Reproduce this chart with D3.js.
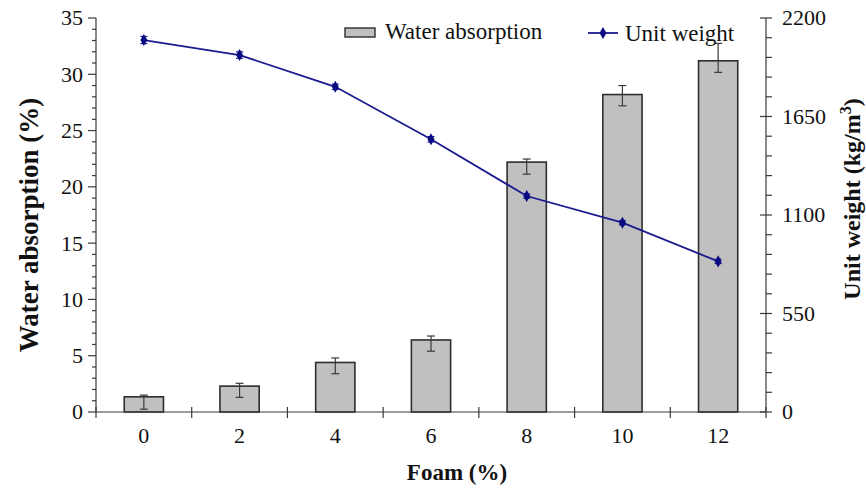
<!DOCTYPE html>
<html>
<head>
<meta charset="utf-8">
<script src="https://cdn.jsdelivr.net/npm/d3@7"></script>
<style>
  html, body { margin: 0; padding: 0; background: #fff; }
  svg { display: block; font-family: "Liberation Serif", "Times New Roman", serif; }
</style>
</head>
<body>
<svg id="chart" width="866" height="488"></svg>
<script>
// Foam content categories (%)
const foam = ["0", "2", "4", "6", "8", "10", "12"];
// Water absorption (%) with lower / upper error extents
const waterAbs = [1.35, 2.3, 4.4, 6.4, 22.2, 28.2, 31.2];
const waterErrUp = [0.15, 0.25, 0.4, 0.35, 0.27, 0.8, 1.55];
const waterErrDown = [1.1, 1.0, 1.0, 1.0, 1.07, 1.0, 1.03];
// Unit weight (kg/m3) with error extent
const unitWeight = [2077, 1993, 1816, 1523, 1206, 1057, 841];
const unitErr = [20, 18, 15, 15, 12, 12, 12];
// Axis tick values
const leftTicks = [0, 5, 10, 15, 20, 25, 30, 35];
const rightTicks = [0, 550, 1100, 1650, 2200];

const svg = d3.select("#chart");
const m = { left: 96, right: 766, top: 18, bottom: 412 };
const axisColor = "#3a3a3a";
const lineColor = "#1b1b8f";

const x = d3.scaleBand().domain(foam).range([m.left, m.right]).paddingInner(0).paddingOuter(0);
const yL = d3.scaleLinear().domain([0, 35]).range([m.bottom, m.top]);
const yR = d3.scaleLinear().domain([0, 2200]).range([m.bottom, m.top]);

const barW = x.bandwidth() * 0.41;

// Bars
svg.append("g").selectAll("rect").data(foam).join("rect")
  .attr("x", d => x(d) + x.bandwidth() / 2 - barW / 2)
  .attr("y", (d, i) => yL(waterAbs[i]))
  .attr("width", barW)
  .attr("height", (d, i) => yL(0) - yL(waterAbs[i]))
  .attr("fill", "#c0c0c0")
  .attr("stroke", "#2e2e2e")
  .attr("stroke-width", 1.6);

// Bar error bars
const eb = svg.append("g").attr("stroke", "#3a3a3a").attr("stroke-width", 1.2);
foam.forEach((d, i) => {
  const cx = x(d) + x.bandwidth() / 2;
  const y1 = yL(waterAbs[i] + waterErrUp[i]);
  const y2 = yL(waterAbs[i] - waterErrDown[i]);
  eb.append("line").attr("x1", cx).attr("x2", cx).attr("y1", y1).attr("y2", y2);
  eb.append("line").attr("x1", cx - 4).attr("x2", cx + 4).attr("y1", y1).attr("y2", y1);
  eb.append("line").attr("x1", cx - 4).attr("x2", cx + 4).attr("y1", y2).attr("y2", y2);
});

// Left axis
const gL = svg.append("g").attr("stroke", axisColor).attr("stroke-width", 1.2);
gL.append("line").attr("x1", m.left).attr("x2", m.left).attr("y1", m.top).attr("y2", m.bottom);
d3.range(0, 36, 1).forEach(v => {
  const major = v % 5 === 0;
  gL.append("line").attr("x1", m.left - (major ? 8 : 4)).attr("x2", m.left)
    .attr("y1", yL(v)).attr("y2", yL(v));
});
svg.append("g").selectAll("text").data(leftTicks).join("text")
  .attr("x", m.left - 13).attr("y", d => yL(d)).attr("dy", "0.34em")
  .attr("text-anchor", "end").attr("font-size", 22).attr("fill", "#111")
  .text(d => d);

// Right axis
const gR = svg.append("g").attr("stroke", axisColor).attr("stroke-width", 1.2);
gR.append("line").attr("x1", m.right).attr("x2", m.right).attr("y1", m.top).attr("y2", m.bottom);
d3.range(0, 2201, 110).forEach(v => {
  const major = v % 550 === 0;
  gR.append("line").attr("x1", major ? m.right - 6 : m.right).attr("x2", m.right + 6)
    .attr("y1", yR(v)).attr("y2", yR(v));
});
svg.append("g").selectAll("text").data(rightTicks).join("text")
  .attr("x", m.right + 16).attr("y", d => yR(d)).attr("dy", "0.34em")
  .attr("text-anchor", "start").attr("font-size", 22).attr("fill", "#111")
  .text(d => d);

// Bottom axis
const gB = svg.append("g").attr("stroke", axisColor).attr("stroke-width", 1.2);
gB.append("line").attr("x1", m.left).attr("x2", m.right).attr("y1", m.bottom).attr("y2", m.bottom);
const bounds = foam.map(d => x(d)).concat([m.right]);
bounds.forEach(bx => {
  gB.append("line").attr("x1", bx).attr("x2", bx).attr("y1", m.bottom - 5).attr("y2", m.bottom + 6);
});
svg.append("g").selectAll("text").data(foam).join("text")
  .attr("x", d => x(d) + x.bandwidth() / 2).attr("y", 443)
  .attr("text-anchor", "middle").attr("font-size", 22).attr("fill", "#111")
  .text(d => d);

// Unit weight line
const line = d3.line().x((d, i) => x(foam[i]) + x.bandwidth() / 2).y(d => yR(d));
svg.append("path").datum(unitWeight)
  .attr("d", line).attr("fill", "none").attr("stroke", lineColor).attr("stroke-width", 1.8);

const lb = svg.append("g").attr("stroke", lineColor).attr("stroke-width", 1.2);
unitWeight.forEach((v, i) => {
  const cx = x(foam[i]) + x.bandwidth() / 2;
  const y1 = yR(v + unitErr[i]), y2 = yR(v - unitErr[i]);
  lb.append("line").attr("x1", cx).attr("x2", cx).attr("y1", y1).attr("y2", y2);
  lb.append("line").attr("x1", cx - 3.5).attr("x2", cx + 3.5).attr("y1", y1).attr("y2", y1);
  lb.append("line").attr("x1", cx - 3.5).attr("x2", cx + 3.5).attr("y1", y2).attr("y2", y2);
});

const diamond = d3.symbol().type(d3.symbolDiamond).size(42);
svg.append("g").selectAll("path").data(unitWeight).join("path")
  .attr("d", diamond)
  .attr("transform", (d, i) => `translate(${x(foam[i]) + x.bandwidth() / 2},${yR(d)})`)
  .attr("fill", "#0a0a80");

// Legend
const leg = svg.append("g");
leg.append("rect").attr("x", 345).attr("y", 28).attr("width", 30).attr("height", 9)
  .attr("fill", "#c0c0c0").attr("stroke", "#2e2e2e").attr("stroke-width", 1.4);
leg.append("text").attr("x", 385).attr("y", 39).attr("font-size", 23).attr("fill", "#111")
  .text("Water absorption");
leg.append("line").attr("x1", 588).attr("x2", 618).attr("y1", 33).attr("y2", 33)
  .attr("stroke", lineColor).attr("stroke-width", 1.8);
leg.append("path").attr("d", diamond).attr("transform", "translate(603,33)").attr("fill", "#0a0a80");
leg.append("text").attr("x", 625).attr("y", 41).attr("font-size", 23).attr("fill", "#111")
  .text("Unit weight");

// Axis titles
svg.append("text").attr("x", 457).attr("y", 480).attr("text-anchor", "middle")
  .attr("font-size", 23).attr("font-weight", "bold").attr("fill", "#111")
  .text("Foam (%)");

svg.append("text")
  .attr("transform", "translate(38,225) rotate(-90)")
  .attr("text-anchor", "middle").attr("font-size", 27).attr("font-weight", "bold").attr("fill", "#111")
  .text("Water absorption (%)");

const rt = svg.append("text")
  .attr("transform", "translate(860,199) rotate(-90)")
  .attr("text-anchor", "middle").attr("font-size", 24).attr("font-weight", "bold").attr("fill", "#111");
rt.append("tspan").text("Unit weight (kg/m");
rt.append("tspan").attr("dy", -9).attr("font-size", 16).text("3");
rt.append("tspan").attr("dy", 9).text(")");
</script>
</body>
</html>
